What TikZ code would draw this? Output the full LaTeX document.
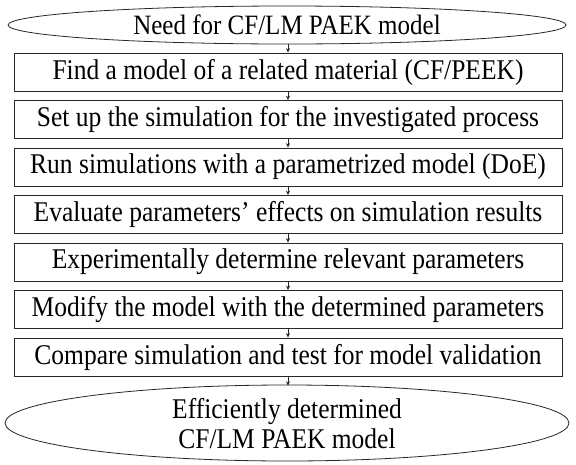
\documentclass[tikz,border=0pt]{standalone}
\usepackage{fontspec}
\usepackage{graphicx}
\setmainfont{Liberation Serif}
\usetikzlibrary{shapes.geometric,arrows.meta}
\newcommand{\tall}[1]{\scalebox{1}[1.12]{#1}}
\begin{document}
\begin{tikzpicture}[x=1pt,y=-1pt,
  stepbox/.style={draw=black!85, line width=0.8pt, minimum width=548pt, minimum height=38pt, inner sep=0pt, font=\fontsize{25.5}{27}\selectfont},
  conn/.style={draw=black!85, line width=0.7pt, -{Stealth[length=4.5pt,width=4pt]}}]
\useasboundingbox (0,0) rectangle (576,464);
\draw[draw=black!85, line width=0.8pt] (287,25) ellipse [x radius=279pt, y radius=19pt];
\node[inner sep=0pt, font=\fontsize{25}{27}\selectfont, minimum width=558pt, minimum height=38pt] (s) at (287,25) {\tall{Need for CF/LM PAEK model}};
\node[stepbox] (b1) at (288,72) {\tall{Find a model of a related material (CF/PEEK)}};
\node[stepbox] (b2) at (288,119.5) {\tall{Set up the simulation for the investigated process}};
\node[stepbox] (b3) at (288,167) {\tall{Run simulations with a parametrized model (DoE)}};
\node[stepbox] (b4) at (288,214.5) {\tall{Evaluate parameters’ effects on simulation results}};
\node[stepbox] (b5) at (288,262) {\tall{Experimentally determine relevant parameters}};
\node[stepbox] (b6) at (288,309.5) {\tall{Modify the model with the determined parameters}};
\node[stepbox] (b7) at (288,357) {\tall{Compare simulation and test for model validation}};
\draw[draw=black!85, line width=0.8pt] (287,423) ellipse [x radius=282pt, y radius=38pt];
\node[inner sep=0pt, font=\fontsize{25.5}{27}\selectfont, minimum width=564pt, minimum height=76pt, align=center] (e) at (287,424) {\tall{Efficiently determined}\\[3pt]\tall{CF/LM PAEK model}};
\draw[conn] (s.south -| b1.north) -- (b1.north);
\draw[conn] (b1) -- (b2);
\draw[conn] (b2) -- (b3);
\draw[conn] (b3) -- (b4);
\draw[conn] (b4) -- (b5);
\draw[conn] (b5) -- (b6);
\draw[conn] (b6) -- (b7);
\draw[conn] (b7.south) -- (b7.south |- e.north);
\end{tikzpicture}
\end{document}
